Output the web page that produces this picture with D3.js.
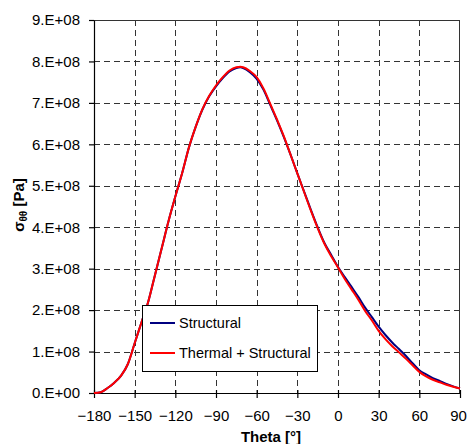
<!DOCTYPE html>
<html><head><meta charset="utf-8">
<script src="https://cdn.jsdelivr.net/npm/d3@7"></script>
<style>body{margin:0;background:#fff}svg{display:block}text{font-family:"Liberation Sans",Arial,sans-serif}</style>
</head><body>
<script>
const theta = [-180,-175,-170,-165,-160,-155,-150,-145,-140,-135,-130,-125,-120,-115,-110,-105,-100,-95,-90,-85,-80,-75,-72,-70,-65,-60,-55,-50,-45,-40,-35,-30,-25,-20,-15,-10,-5,0,5,10,15,20,25,30,35,40,45,50,55,60,65,70,75,80,85,90];
const structural = [0,0.02,0.12,0.25,0.42,0.7,1.2,1.7,2.2,2.85,3.5,4.15,4.74,5.3,5.92,6.42,6.84,7.16,7.4,7.6,7.76,7.84,7.86,7.84,7.74,7.58,7.32,6.95,6.58,6.18,5.75,5.3,4.86,4.42,4.0,3.62,3.33,3.04,2.8,2.56,2.32,2.06,1.83,1.6,1.4,1.22,1.06,0.9,0.72,0.55,0.45,0.36,0.29,0.22,0.16,0.11];
const thermalStructural = [0,0.02,0.12,0.25,0.42,0.7,1.2,1.7,2.2,2.85,3.5,4.15,4.74,5.3,5.92,6.42,6.85,7.17,7.42,7.62,7.78,7.86,7.87,7.86,7.77,7.62,7.35,6.98,6.6,6.2,5.75,5.3,4.85,4.4,3.98,3.6,3.3,3.03,2.75,2.5,2.25,1.98,1.75,1.5,1.3,1.13,0.98,0.83,0.67,0.51,0.4,0.32,0.26,0.2,0.15,0.11];
const xTicks = [-180,-150,-120,-90,-60,-30,0,30,60,90];
const yTicks = [0,1,2,3,4,5,6,7,8,9];
const yTickLabels = ["0.E+00","1.E+08","2.E+08","3.E+08","4.E+08","5.E+08","6.E+08","7.E+08","8.E+08","9.E+08"];
const seriesNames = ["Structural","Thermal + Structural"];
const seriesColors = ["#000080","#ff0000"];

const W=467,H=444, L=94,R=460,T=20,B=393;
const svg=d3.select("body").append("svg").attr("width",W).attr("height",H);
const x=d3.scaleLinear().domain([-180,90]).range([L,R]);
const y=d3.scaleLinear().domain([0,9]).range([B,T]);

// grid
const g=svg.append("g");
g.selectAll(".gx").data(xTicks.slice(1,-1)).join("line")
 .attr("x1",d=>Math.round(x(d))+0.5).attr("x2",d=>Math.round(x(d))+0.5).attr("y1",T).attr("y2",B)
 .attr("stroke","#333").attr("stroke-dasharray","6,4");
g.selectAll(".gy").data(yTicks.slice(1,-1)).join("line")
 .attr("y1",d=>Math.round(y(d))+0.5).attr("y2",d=>Math.round(y(d))+0.5).attr("x1",L).attr("x2",R)
 .attr("stroke","#333").attr("stroke-dasharray","6,4");
svg.append("line").attr("x1",L).attr("x2",R).attr("y1",T+0.5).attr("y2",T+0.5).attr("stroke","#333");
svg.append("line").attr("x1",R-0.5).attr("x2",R-0.5).attr("y1",T).attr("y2",B).attr("stroke","#333");

// axes
const xa=svg.append("g").attr("transform",`translate(0,${B})`)
 .call(d3.axisBottom(x).tickValues(xTicks).tickSize(5).tickPadding(12).tickSizeOuter(0));
xa.selectAll(".tick line").attr("y1",-3);
xa.selectAll(".tick").filter(d=>d===90).select("text").attr("dx",-2);
const ya=svg.append("g").attr("transform",`translate(${L},0)`)
 .call(d3.axisLeft(y).tickValues(yTicks).tickFormat((d,i)=>yTickLabels[i]).tickSize(5).tickPadding(9).tickSizeOuter(0));
[xa,ya].forEach(a=>{a.selectAll("path,line").attr("stroke","#000").attr("stroke-width",1.2);
 a.selectAll("text").attr("font-size",15).attr("fill","#000").attr("font-family","Liberation Sans, Arial, sans-serif");});

// lines
const series=[structural,thermalStructural];
const line=d3.line().x((d,i)=>x(theta[i])).y(d=>y(d)).curve(d3.curveMonotoneX);
series.forEach((s,k)=>{
 svg.append("path").datum(s).attr("d",line).attr("fill","none")
  .attr("stroke",seriesColors[k]).attr("stroke-width",2).attr("stroke-linejoin","round");
});

// legend
const lg=svg.append("g");
lg.append("rect").attr("x",142.5).attr("y",305.5).attr("width",175).attr("height",66).attr("fill","#fff").attr("stroke","#000");
seriesNames.forEach((n,i)=>{
 const yy=i?353:323;
 lg.append("line").attr("x1",150).attr("x2",175).attr("y1",yy).attr("y2",yy).attr("stroke",seriesColors[i]).attr("stroke-width",2);
 lg.append("text").attr("x",179).attr("y",yy+5.2).attr("font-size",14.5).text(n);
});

// titles
svg.append("text").attr("x",271).attr("y",442).attr("text-anchor","middle").attr("font-weight","bold").attr("font-size",15).text("Theta [°]");
const yt=svg.append("text").attr("transform","translate(24,205) rotate(-90)").attr("text-anchor","middle").attr("font-weight","bold").attr("font-size",15);
yt.append("tspan").text("σ");
yt.append("tspan").attr("font-size",10).attr("dy",3).text("θθ");
yt.append("tspan").attr("dy",-3).text(" [Pa]");
</script>
</body></html>
